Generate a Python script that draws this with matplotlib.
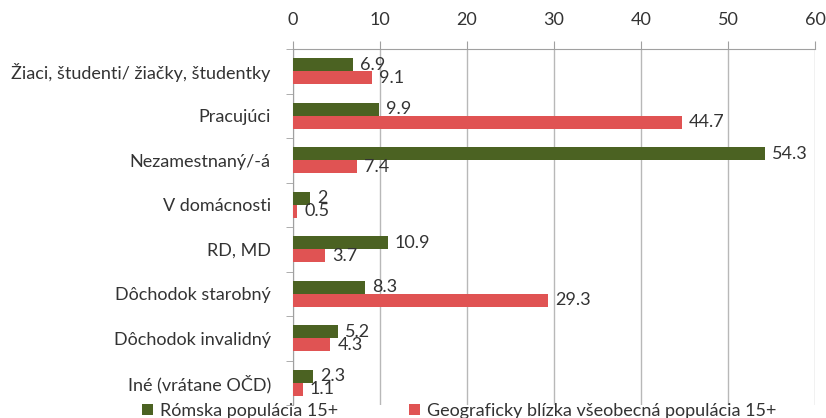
import matplotlib
matplotlib.use("Agg")
import matplotlib.pyplot as plt
import numpy as np

categories = ["Žiaci, študenti/ žiačky, študentky", "Pracujúci", "Nezamestnaný/-á",
              "V domácnosti", "RD, MD", "Dôchodok starobný", "Dôchodok invalidný",
              "Iné (vrátane OČD)"]
roma = [6.9, 9.9, 54.3, 2, 10.9, 8.3, 5.2, 2.3]
general = [9.1, 44.7, 7.4, 0.5, 3.7, 29.3, 4.3, 1.1]
roma_labels = ["6.9", "9.9", "54.3", "2", "10.9", "8.3", "5.2", "2.3"]
general_labels = ["9.1", "44.7", "7.4", "0.5", "3.7", "29.3", "4.3", "1.1"]
series_names = ["Rómska populácia 15+", "Geograficky blízka všeobecná populácia 15+"]
xticks = [0, 10, 20, 30, 40, 50, 60]

plt.rcParams['font.family'] = ['Lato', 'DejaVu Sans']
green = "#4b6222"
red = "#e05353"
txt = "#333333"
fs = 13

fig = plt.figure(figsize=(8.26, 4.18), dpi=100)
ax = fig.add_axes([293/826, 1-405/418, (815-293)/826, (405-49)/418])

y = np.arange(len(categories))
h = 0.29
b1 = ax.barh(y - h/2, roma, height=h, color=green, label=series_names[0], zorder=3)
b2 = ax.barh(y + h/2, general, height=h, color=red, label=series_names[1], zorder=3)

for yi, v, lab in zip(y, roma, roma_labels):
    ax.annotate(lab, (v, yi - h/2), xytext=(5, 0), textcoords="offset points",
                va="center", ha="left", fontsize=fs, color=txt, zorder=4)
for yi, v, lab in zip(y, general, general_labels):
    ax.annotate(lab, (v, yi + h/2), xytext=(5, 0), textcoords="offset points",
                va="center", ha="left", fontsize=fs, color=txt, zorder=4)

ax.set_xlim(0, 60)
ax.set_ylim(len(categories) - 0.5, -0.5)
ax.set_xticks(xticks)
ax.xaxis.tick_top()
ax.tick_params(axis="x", which="major", length=6, color="#a0a0a0", labelsize=fs,
               labelcolor=txt, pad=9)
ax.set_yticks(y)
ax.set_yticklabels(categories)
ax.tick_params(axis="y", which="major", length=0, labelsize=fs, labelcolor=txt, pad=16)
ax.set_yticks(np.arange(-0.5, len(categories), 1), minor=True)
ax.tick_params(axis="y", which="minor", length=5, color="#a0a0a0")
ax.grid(axis="x", color="#b8b8b8", linewidth=1, zorder=0)
for s in ["right", "bottom"]:
    ax.spines[s].set_visible(False)
ax.spines["left"].set_color("#a0a0a0")
ax.spines["top"].set_color("#a0a0a0")

fig.legend(handles=[b1, b2], labels=series_names, loc="center", ncol=2,
           bbox_to_anchor=(0.556, 1-411/418), frameon=False, fontsize=fs,
           handlelength=0.6, handleheight=0.6, handletextpad=0.4, columnspacing=3.9,
           labelcolor=txt)

fig.savefig("out.png", dpi=100)
